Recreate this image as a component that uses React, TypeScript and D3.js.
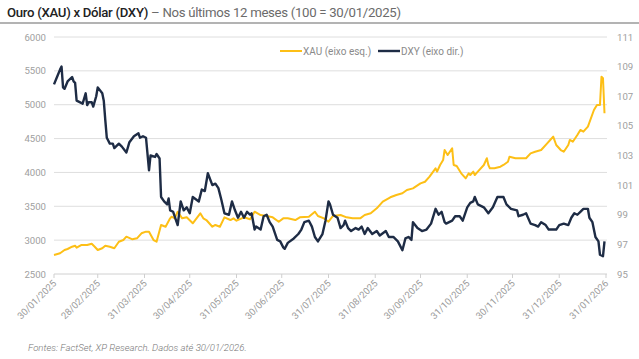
import React from "react";
import * as d3 from "d3";

const xauDates = ["2025-01-30","2025-02-03","2025-02-06","2025-02-08","2025-02-11","2025-02-13","2025-02-14","2025-02-17","2025-02-21","2025-02-24","2025-02-26","2025-02-28","2025-03-03","2025-03-05","2025-03-08","2025-03-11","2025-03-14","2025-03-17","2025-03-19","2025-03-23","2025-03-26","2025-03-29","2025-04-01","2025-04-03","2025-04-06","2025-04-08","2025-04-11","2025-04-14","2025-04-17","2025-04-18","2025-04-20","2025-04-22","2025-04-25","2025-04-28","2025-05-02","2025-05-07","2025-05-09","2025-05-11","2025-05-15","2025-05-17","2025-05-20","2025-05-23","2025-05-27","2025-05-29","2025-05-31","2025-06-05","2025-06-09","2025-06-12","2025-06-16","2025-06-20","2025-06-24","2025-06-28","2025-07-01","2025-07-04","2025-07-09","2025-07-12","2025-07-18","2025-07-22","2025-07-24","2025-07-28","2025-07-31","2025-08-03","2025-08-08","2025-08-12","2025-08-16","2025-08-21","2025-08-24","2025-08-28","2025-09-01","2025-09-05","2025-09-10","2025-09-14","2025-09-18","2025-09-21","2025-09-25","2025-09-30","2025-10-03","2025-10-06","2025-10-10","2025-10-11","2025-10-13","2025-10-15","2025-10-16","2025-10-18","2025-10-21","2025-10-22","2025-10-24","2025-10-27","2025-10-30","2025-11-01","2025-11-02","2025-11-04","2025-11-05","2025-11-07","2025-11-11","2025-11-13","2025-11-14","2025-11-15","2025-11-18","2025-11-22","2025-11-24","2025-11-27","2025-11-28","2025-12-02","2025-12-05","2025-12-09","2025-12-12","2025-12-15","2025-12-19","2025-12-23","2025-12-25","2025-12-27","2025-12-29","2026-01-01","2026-01-03","2026-01-06","2026-01-07","2026-01-09","2026-01-12","2026-01-14","2026-01-16","2026-01-19","2026-01-23","2026-01-25","2026-01-27","2026-01-28","2026-01-29","2026-01-30"];
const xauValues = [2780,2806,2854,2869,2903,2918,2888,2928,2928,2947,2903,2854,2880,2918,2903,2880,2977,3002,3051,3012,3027,3101,3125,3125,3002,2977,3224,3198,3322,3346,3322,3420,3322,3337,3249,3396,3322,3297,3198,3224,3198,3337,3297,3322,3287,3337,3308,3420,3371,3356,3337,3272,3322,3322,3297,3337,3346,3420,3357,3322,3272,3357,3371,3337,3322,3322,3371,3396,3470,3568,3633,3667,3692,3740,3765,3839,3863,3937,4061,4011,4110,4183,4331,4257,4356,4110,4095,3987,3913,3987,3962,4011,3962,4011,4110,4209,4110,4061,4061,4085,4110,4158,4232,4209,4209,4209,4282,4306,4331,4430,4479,4528,4405,4331,4306,4405,4479,4454,4553,4627,4602,4676,4922,4996,4996,5413,5390,4873];

const dxyDates = ["2025-01-30","2025-02-01","2025-02-03","2025-02-04","2025-02-05","2025-02-06","2025-02-08","2025-02-11","2025-02-12","2025-02-13","2025-02-14","2025-02-16","2025-02-18","2025-02-20","2025-02-21","2025-02-22","2025-02-24","2025-02-25","2025-02-27","2025-02-28","2025-03-03","2025-03-04","2025-03-05","2025-03-06","2025-03-08","2025-03-10","2025-03-11","2025-03-14","2025-03-16","2025-03-19","2025-03-21","2025-03-24","2025-03-27","2025-03-28","2025-03-30","2025-04-01","2025-04-03","2025-04-04","2025-04-07","2025-04-08","2025-04-10","2025-04-11","2025-04-13","2025-04-15","2025-04-16","2025-04-17","2025-04-19","2025-04-22","2025-04-24","2025-04-26","2025-04-28","2025-04-30","2025-05-02","2025-05-06","2025-05-08","2025-05-10","2025-05-12","2025-05-15","2025-05-17","2025-05-19","2025-05-21","2025-05-23","2025-05-26","2025-05-28","2025-05-30","2025-06-01","2025-06-03","2025-06-05","2025-06-07","2025-06-09","2025-06-10","2025-06-12","2025-06-13","2025-06-16","2025-06-18","2025-06-20","2025-06-22","2025-06-24","2025-06-27","2025-06-29","2025-07-01","2025-07-02","2025-07-04","2025-07-08","2025-07-11","2025-07-13","2025-07-15","2025-07-18","2025-07-20","2025-07-22","2025-07-24","2025-07-27","2025-07-29","2025-07-31","2025-08-01","2025-08-03","2025-08-06","2025-08-08","2025-08-10","2025-08-11","2025-08-13","2025-08-15","2025-08-18","2025-08-20","2025-08-22","2025-08-24","2025-08-26","2025-08-29","2025-09-01","2025-09-03","2025-09-07","2025-09-09","2025-09-12","2025-09-15","2025-09-18","2025-09-20","2025-09-22","2025-09-24","2025-09-25","2025-09-28","2025-10-01","2025-10-04","2025-10-07","2025-10-10","2025-10-12","2025-10-14","2025-10-16","2025-10-17","2025-10-21","2025-10-23","2025-10-26","2025-10-28","2025-10-31","2025-11-02","2025-11-04","2025-11-05","2025-11-07","2025-11-11","2025-11-14","2025-11-17","2025-11-20","2025-11-24","2025-11-26","2025-11-29","2025-12-03","2025-12-04","2025-12-07","2025-12-09","2025-12-12","2025-12-15","2025-12-17","2025-12-19","2025-12-22","2025-12-24","2025-12-27","2025-12-29","2025-12-31","2026-01-03","2026-01-06","2026-01-08","2026-01-10","2026-01-12","2026-01-14","2026-01-16","2026-01-19","2026-01-20","2026-01-22","2026-01-24","2026-01-26","2026-01-27","2026-01-29","2026-01-30"];
const dxyValues = [107.8,108.3,108.8,109.0,107.6,107.5,108.0,108.3,108.0,107.9,106.7,106.6,106.5,107.2,106.4,106.6,106.6,106.3,107.0,107.6,107.2,106.7,105.4,104.2,103.8,103.8,103.5,103.8,103.6,103.2,103.9,104.3,104.5,104.2,104.3,104.2,102.0,103.0,102.9,103.1,102.8,100.2,99.9,99.7,100.1,99.3,99.2,98.3,99.9,99.3,99.5,99.1,100.2,99.9,100.7,100.6,101.8,101.0,101.1,100.8,100.0,99.1,99.0,99.9,99.3,98.8,99.2,98.8,99.2,99.0,99.1,98.0,98.2,98.0,98.9,99.0,98.5,98.2,97.3,97.2,96.8,96.7,97.1,97.4,97.7,98.0,98.5,98.6,98.2,97.5,97.2,97.7,98.6,99.9,99.7,99.0,98.8,98.1,98.3,98.6,98.1,97.9,98.1,98.0,98.2,97.7,98.1,97.7,97.9,97.6,97.9,97.5,97.5,97.2,96.6,97.4,97.5,97.3,98.5,98.1,97.9,98.0,98.4,99.4,99.0,99.2,98.5,98.4,98.6,98.9,98.9,98.6,99.5,99.8,99.9,100.2,99.7,99.5,99.1,99.5,100.2,100.2,99.7,99.4,99.3,98.9,99.0,99.1,98.4,98.3,98.2,98.5,98.3,98.0,98.0,98.0,98.3,98.4,98.3,98.8,99.1,99.0,99.2,99.4,99.4,98.8,98.5,97.5,97.2,96.3,96.2,97.2];

const xTickDates = ["2025-01-30","2025-02-28","2025-03-31","2025-04-30","2025-05-31","2025-06-30","2025-07-31","2025-08-31","2025-09-30","2025-10-31","2025-11-30","2025-12-31","2026-01-31"];
const leftTicks = [2500,3000,3500,4000,4500,5000,5500,6000];
const rightTicks = [95,97,99,101,103,105,107,109,111];

const titleMain = "Ouro (XAU) x Dólar (DXY)";
const titleRest = " – Nos últimos 12 meses (100 = 30/01/2025)";
const footer = "Fontes: FactSet, XP Research. Dados até 30/01/2026.";
const legendXau = "XAU (eixo esq.)";
const legendDxy = "DXY (eixo dir.)";

const parse = d3.timeParse("%Y-%m-%d");
const fmt = d3.timeFormat("%d/%m/%Y");

export default function App() {
  const W = 639, H = 359;
  const left = 54, right = 606, top = 37, bottom = 274;
  const x = d3.scaleTime().domain([parse("2025-01-30")!, parse("2026-01-31")!]).range([left, right]);
  const yL = d3.scaleLinear().domain([2500, 6000]).range([bottom, top]);
  const yR = d3.scaleLinear().domain([95, 111]).range([bottom, top]);
  const xau = xauDates.map((d, i) => ({ d: parse(d)!, v: xauValues[i] }));
  const dxy = dxyDates.map((d, i) => ({ d: parse(d)!, v: dxyValues[i] }));
  const lineL = d3.line<{ d: Date; v: number }>().x(p => x(p.d)).y(p => yL(p.v));
  const lineR = d3.line<{ d: Date; v: number }>().x(p => x(p.d)).y(p => yR(p.v));
  const gold = "#FDBF16";
  const navy = "#1E2C45";
  const font = "Roboto, 'Noto Sans', sans-serif";
  return (
    <svg width={W} height={H} style={{ position: "fixed", left: 0, top: 0, background: "#fff" }} fontFamily={font}>
      <text x={7} y={17} fontSize={13.2} letterSpacing={-0.3}>
        <tspan fill="#222" fontWeight={500}>{titleMain}</tspan>
        <tspan fill="#6b6b6b">{titleRest}</tspan>
      </text>
      <line x1={0} x2={W} y1={23} y2={23} stroke="#9a9a9a" strokeWidth={1.5} />
      {leftTicks.map(t => (
        <g key={t}>
          <line x1={left} x2={right + 1} y1={yL(t)} y2={yL(t)} stroke={t === 2500 ? "#d0d0d0" : "#dedede"} strokeWidth={1} />
          <text x={46} y={yL(t) + 3.5} textAnchor="end" fontSize={9.6} fill="#a0a0a0">{t}</text>
        </g>
      ))}
      {rightTicks.map(t => (
        <text key={t} x={617} y={yR(t) + 3.5} fontSize={9.6} fill="#a0a0a0">{t}</text>
      ))}
      {xTickDates.map(s => {
        const xx = x(parse(s)!);
        return (
          <g key={s}>
            <line x1={xx} x2={xx} y1={bottom} y2={bottom + 4} stroke="#cfcfcf" />
            <text transform={`translate(${xx + 3},${bottom + 10}) rotate(-45)`} textAnchor="end" fontSize={9.5} fill="#9a9a9a">{fmt(parse(s)!)}</text>
          </g>
        );
      })}
      <path d={lineL(xau)!} fill="none" stroke={gold} strokeWidth={2} strokeLinejoin="round" />
      <path d={lineR(dxy)!} fill="none" stroke={navy} strokeWidth={2.4} strokeLinejoin="round" />
      <line x1={280} x2={302} y1={51} y2={51} stroke={gold} strokeWidth={2} />
      <text x={303} y={54.5} fontSize={10} fill="#8a8a8a">{legendXau}</text>
      <line x1={378} x2={400} y1={51} y2={51} stroke={navy} strokeWidth={2.4} />
      <text x={401} y={54.5} fontSize={10} fill="#8a8a8a">{legendDxy}</text>
      <text x={28} y={351} fontSize={9.6} fontStyle="italic" fontWeight={300} fill="#777">{footer}</text>
    </svg>
  );
}
